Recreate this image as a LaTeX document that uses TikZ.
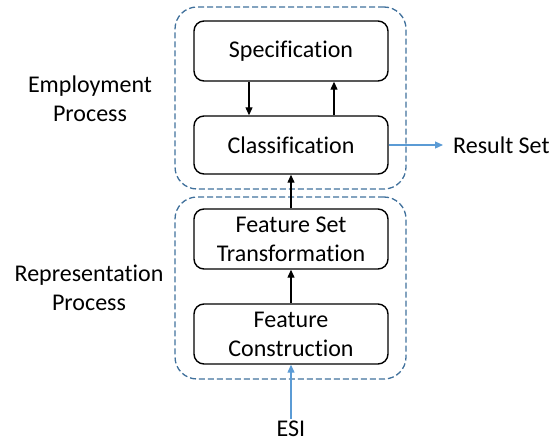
\documentclass[tikz,border=0pt]{standalone}
\usepackage{fontspec}
\setmainfont[Ligatures=NoCommon]{Carlito}
\usetikzlibrary{arrows.meta}
\definecolor{dashblue}{HTML}{41719C}
\definecolor{arrblue}{HTML}{5B9BD5}
\begin{document}
\begin{tikzpicture}[x=1pt,y=-1pt,
  font=\fontsize{24}{29}\selectfont,
  box/.style={draw=black,line width=1.4pt,rounded corners=10pt,minimum width=194pt,minimum height=58pt,inner sep=0pt,align=center},
  group/.style={draw=dashblue,line width=1.3pt,dash pattern=on 6pt off 3pt,rounded corners=22pt,minimum width=231pt,minimum height=182pt,inner sep=0pt},
  lbl/.style={align=center,inner sep=0pt},
  arr/.style={line width=1.2pt,-{Triangle[length=8pt,width=7pt]}},
  barr/.style={draw=arrblue,line width=1.2pt,-{Triangle[length=8pt,width=7pt]}}]
\useasboundingbox (0,0) rectangle (556,444);
\node[group] (g1) at (290.5,98) {};
\node[group] (g2) at (290.5,288) {};
\node[box,minimum height=60pt] (spec) at (291,51) {Specification};
\node[box] (cls) at (291,145) {Classification};
\node[box,minimum height=60pt] (fst) at (291,239) {Feature Set\\Transformation};
\node[box,minimum height=60pt] (fc) at (291,334) {Feature\\Construction};
\node[lbl] (emp) at (90,99) {Employment\\Process};
\node[lbl] (rep) at (89,288) {Representation\\Process};
\node[anchor=west,inner xsep=10pt,inner ysep=0pt] (rs) at (443,145) {Result Set};
\node[inner sep=0pt] (esi) at (291,429) {ESI};
\coordinate (esitop) at ([yshift=2pt]esi.north);
\draw[arr] ([xshift=-42pt]spec.south) -- ([xshift=-42pt]cls.north);
\draw[arr] ([xshift=43pt]cls.north) -- ([xshift=43pt]spec.south);
\draw[arr] (fst.north) -- (cls.south);
\draw[arr] (fc.north) -- (fst.south);
\draw[barr] (cls.east) -- (rs.west);
\draw[barr] (esitop) -- (fc.south);
\end{tikzpicture}
\end{document}
